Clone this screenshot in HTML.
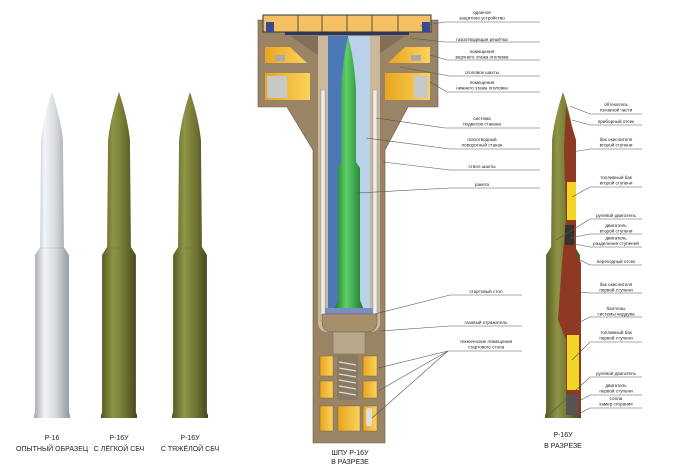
<!DOCTYPE html>
<html><head><meta charset="utf-8"><style>
html,body{margin:0;padding:0;background:#fff;}
svg{display:block;}
text{font-family:"Liberation Sans",sans-serif;fill:#222;}
.s{font-size:4.6px;text-anchor:middle;}
.b{font-size:7px;text-anchor:middle;}
.l{stroke:#555;stroke-width:0.6;fill:none;}
</style></head><body>
<svg width="700" height="467" viewBox="0 0 700 467" xmlns="http://www.w3.org/2000/svg">
<defs>
<linearGradient id="gw" x1="0" x2="1"><stop offset="0" stop-color="#9aa0a6"/><stop offset="0.3" stop-color="#f2f4f6"/><stop offset="0.6" stop-color="#d6dadd"/><stop offset="1" stop-color="#8c9196"/></linearGradient>
<linearGradient id="gg" x1="0" x2="1"><stop offset="0" stop-color="#4d5420"/><stop offset="0.35" stop-color="#8f9545"/><stop offset="0.65" stop-color="#6f7532"/><stop offset="1" stop-color="#3f451a"/></linearGradient>
<linearGradient id="gn" x1="0" x2="1"><stop offset="0" stop-color="#1f7a2e"/><stop offset="0.4" stop-color="#5fd068"/><stop offset="1" stop-color="#1d7a30"/></linearGradient>
<linearGradient id="gy" x1="0" x2="1"><stop offset="0" stop-color="#e9a51f"/><stop offset="1" stop-color="#fbd35a"/></linearGradient>
<symbol id="rk" viewBox="-18 0 36 330">
<path d="M0 0 C4 12 9 30 11 48 L12 156 L17 164 L17 322 L19 328 L-19 328 L-17 322 L-17 164 L-12 156 L-11 48 C-9 30 -4 12 0 0Z"/>
</symbol>
</defs>

<!-- left rockets -->
<use href="#rk" x="34" y="92" width="36" height="328" fill="url(#gw)"/>
<use href="#rk" x="101" y="92" width="36" height="328" fill="url(#gg)"/>
<use href="#rk" x="172" y="92" width="36" height="328" fill="url(#gg)"/>
<g stroke="#555" stroke-width="0.3" opacity="0.5">
<line x1="40" y1="248" x2="64" y2="248"/><line x1="107" y1="248" x2="131" y2="248"/><line x1="178" y1="248" x2="202" y2="248"/>
</g>
<text class="b" x="52" y="440">Р-16</text><text class="b" x="52" y="451">ОПЫТНЫЙ ОБРАЗЕЦ</text>
<text class="b" x="119" y="440">Р-16У</text><text class="b" x="119" y="451">С ЛЁГКОЙ СБЧ</text>
<text class="b" x="190" y="440">Р-16У</text><text class="b" x="190" y="451">С ТЯЖЁЛОЙ СБЧ</text>

<!-- silo -->
<path d="M258 20 H438 V107 H408 L385 150 V443 H313 V150 L287 107 H258Z" fill="#9a8466" stroke="#6a5a44" stroke-width="0.6"/>
<rect x="263" y="15" width="168" height="17" fill="#f5c063" stroke="#334" stroke-width="1"/>
<g stroke="#334" stroke-width="0.8"><line x1="298" y1="15" x2="298" y2="32"/><line x1="322" y1="15" x2="322" y2="32"/><line x1="347" y1="15" x2="347" y2="32"/><line x1="372" y1="15" x2="372" y2="32"/><line x1="398" y1="15" x2="398" y2="32"/></g>
<rect x="285" y="32" width="124" height="3" fill="#2a3560"/>
<rect x="266" y="22" width="8" height="10" fill="#3a4a90"/><rect x="422" y="22" width="8" height="10" fill="#3a4a90"/>
<path d="M290 36 L325 36 L325 60 Z" fill="#7a6650" opacity="0.7"/><path d="M405 36 L370 36 L370 60 Z" fill="#7a6650" opacity="0.7"/>
<path d="M265 47 H290 L307 63 H265Z" fill="url(#gy)"/><path d="M430 47 H405 L388 63 H430Z" fill="url(#gy)"/>
<rect x="275" y="55" width="10" height="6" fill="#aaa"/><rect x="411" y="55" width="10" height="6" fill="#aaa"/>
<rect x="265" y="73" width="45" height="27" fill="url(#gy)"/><rect x="385" y="73" width="45" height="27" fill="url(#gy)"/>
<rect x="267" y="76" width="20" height="22" fill="#c8c8c8"/><rect x="414" y="76" width="14" height="22" fill="#c8c8c8"/>
<!-- shaft cavity -->
<path d="M318 36 H380 V322 Q380 332 370 332 H328 Q318 332 318 322Z" fill="#c9b89a"/>
<rect x="321" y="90" width="4" height="230" fill="#eeeeee" stroke="#888" stroke-width="0.4"/>
<rect x="373" y="90" width="4" height="230" fill="#eeeeee" stroke="#888" stroke-width="0.4"/>
<rect x="328" y="36" width="20" height="274" fill="#4d78b8"/>
<rect x="348" y="36" width="22" height="274" fill="#b9d2ea"/>
<!-- rocket -->
<path d="M348 37 C352 50 355 70 356 90 L356 162 L360 168 L360 300 L363 308 L335 308 L338 300 L338 168 L341 162 L341 90 C342 70 345 50 348 37Z" fill="url(#gn)"/>
<rect x="325" y="308" width="48" height="6" fill="#7c8ec0"/>
<path d="M322 314 H377 V322 Q377 332 367 332 H332 Q322 332 322 322Z" fill="#a88f6c" stroke="#6a5a44" stroke-width="0.5"/>
<rect x="333" y="332" width="32" height="22" fill="#b8a78a" stroke="#7a6850" stroke-width="0.5"/>
<rect x="337" y="355" width="21" height="45" fill="#8a7a62"/>
<g stroke="#ddd" stroke-width="1.2"><line x1="339" y1="362" x2="356" y2="365"/><line x1="339" y1="368" x2="356" y2="371"/><line x1="339" y1="374" x2="356" y2="377"/><line x1="339" y1="380" x2="356" y2="383"/><line x1="339" y1="386" x2="356" y2="389"/><line x1="339" y1="392" x2="356" y2="395"/></g>
<g fill="url(#gy)" stroke="#6a5a44" stroke-width="0.4">
<rect x="320" y="356" width="13" height="20"/><rect x="363" y="356" width="14" height="20"/>
<rect x="320" y="381" width="13" height="17"/><rect x="363" y="381" width="14" height="17"/>
<rect x="320" y="406" width="13" height="25"/><rect x="338" y="406" width="22" height="25"/><rect x="363" y="406" width="14" height="25"/>
</g>
<rect x="366" y="408" width="6" height="18" rx="2" fill="#ddd"/>
<text class="b" x="350" y="455">ШПУ Р-16У</text><text class="b" x="350" y="464">В РАЗРЕЗЕ</text>

<!-- silo labels -->
<g>
<text class="s" x="482" y="14">оданное</text><text class="s" x="482" y="19.5">защитное устройство</text>
<polyline class="l" points="420,26 445,22 540,22"/>
<text class="s" x="482" y="41">газоотводящая решётка</text><polyline class="l" points="410,38 445,42 540,42"/>
<text class="s" x="482" y="53">помещения</text><text class="s" x="482" y="58.5">верхнего этажа оголовка</text><polyline class="l" points="430,55 447,60 540,60"/>
<text class="s" x="482" y="74">оголовок шахты</text><polyline class="l" points="400,67 450,76 540,76"/>
<text class="s" x="482" y="84">помещения</text><text class="s" x="482" y="89.5">нижнего этажа оголовка</text><polyline class="l" points="430,82 447,92 540,92"/>
<text class="s" x="482" y="120">система</text><text class="s" x="482" y="125.5">подвесов стакана</text><polyline class="l" points="376,118 445,128 540,128"/>
<text class="s" x="482" y="141">газоотводный</text><text class="s" x="482" y="146.5">поворотный стакан</text><polyline class="l" points="366,138 450,149 540,149"/>
<text class="s" x="482" y="168">ствол шахты</text><polyline class="l" points="383,162 450,170 540,170"/>
<text class="s" x="482" y="186">ракета</text><polyline class="l" points="357,193 450,188 540,188"/>
<text class="s" x="486" y="293">стартовый стол</text><polyline class="l" points="375,314 450,295 522,295"/>
<text class="s" x="486" y="324">газовый отражатель</text><polyline class="l" points="380,331 450,326 522,326"/>
<text class="s" x="486" y="343">технические помещения</text><text class="s" x="486" y="348.5">стартового стола</text>
<polyline class="l" points="448,351 522,351"/>
<line class="l" x1="448" y1="351" x2="378" y2="368"/><line class="l" x1="448" y1="351" x2="378" y2="391"/><line class="l" x1="448" y1="351" x2="372" y2="418"/>
</g>

<!-- right cutaway rocket -->
<use href="#rk" x="545" y="92" width="36" height="328" fill="url(#gg)"/>
<path d="M566 106 L576 140 L576 253 L581 263 L581 415 L566 415 L566 340 L558 320 L562 263 L566 220 L564 150Z" fill="#8e3a22"/>
<rect x="567" y="182" width="9" height="38" fill="#f2d624"/>
<rect x="567" y="335" width="12" height="55" fill="#f2d624"/>
<rect x="565" y="225" width="9" height="20" fill="#333"/>
<rect x="566" y="395" width="12" height="20" fill="#555"/>
<text class="b" x="563" y="437">Р-16У</text><text class="b" x="563" y="448">В РАЗРЕЗЕ</text>
<g>
<text class="s" x="616" y="106">обтекатель</text><text class="s" x="616" y="111.5">головной части</text><polyline class="l" points="570,106 590,114 642,114"/>
<text class="s" x="616" y="123">приборный отсек</text><polyline class="l" points="572,120 590,125 642,125"/>
<text class="s" x="616" y="141">бак окислителя</text><text class="s" x="616" y="146.5">второй ступени</text><polyline class="l" points="572,152 590,149 642,149"/>
<text class="s" x="616" y="179">топливный бак</text><text class="s" x="616" y="184.5">второй ступени</text><polyline class="l" points="572,197 590,187 642,187"/>
<text class="s" x="616" y="217">рулевой двигатель</text><polyline class="l" points="556,240 590,219 642,219"/>
<text class="s" x="616" y="227">двигатель</text><text class="s" x="616" y="232.5">второй ступени</text><polyline class="l" points="570,238 590,234 642,234"/>
<text class="s" x="616" y="239.5">двигатель</text><text class="s" x="616" y="245">разделения ступеней</text><polyline class="l" points="575,244 590,247 642,247"/>
<text class="s" x="616" y="263">переходный отсек</text><polyline class="l" points="576,258 590,265 642,265"/>
<text class="s" x="616" y="286">бак окислителя</text><text class="s" x="616" y="291.5">первой ступени</text><polyline class="l" points="576,292 590,293 642,293"/>
<text class="s" x="616" y="310">баллоны</text><text class="s" x="616" y="315.5">системы наддува</text><polyline class="l" points="570,327 590,317 642,317"/>
<text class="s" x="616" y="334">топливный бак</text><text class="s" x="616" y="339.5">первой ступени</text><polyline class="l" points="572,360 590,342 642,342"/>
<text class="s" x="616" y="375">рулевой двигатель</text><polyline class="l" points="550,414 590,377 642,377"/>
<text class="s" x="616" y="387">двигатель</text><text class="s" x="616" y="392.5">первой ступени</text><polyline class="l" points="572,405 590,395 642,395"/>
<text class="s" x="616" y="400">сопла</text><text class="s" x="616" y="405.5">камер сгорания</text><polyline class="l" points="578,414 590,408 642,408"/>
</g>
</svg>
</body></html>
